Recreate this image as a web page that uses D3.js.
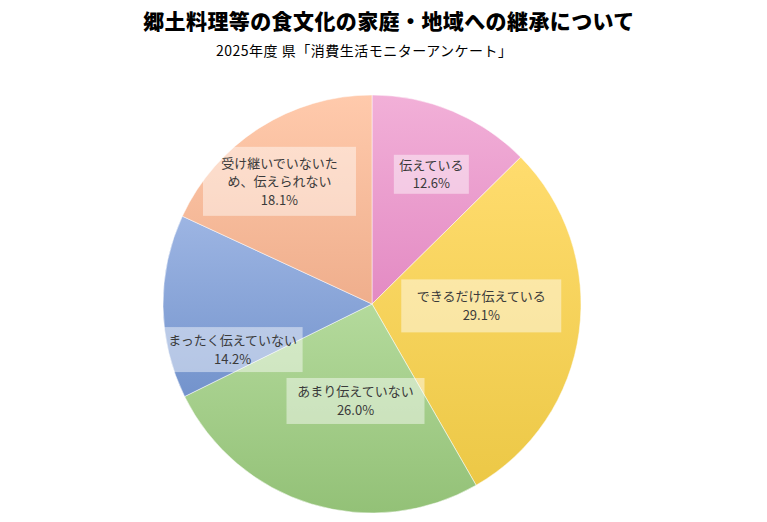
<!DOCTYPE html>
<html>
<head>
<meta charset="utf-8">
<script src="https://cdn.jsdelivr.net/npm/d3@7"></script>
<style>
  html, body { margin: 0; padding: 0; background: #fff; }
  svg { display: block; font-family: "Noto Sans CJK JP", "Noto Sans", sans-serif; }
</style>
</head>
<body>
<svg id="chart" width="767" height="522"></svg>
<script>
// data
const categories = ["伝えている", "できるだけ伝えている", "あまり伝えていない", "まったく伝えていない", "受け継いでいないため、伝えられない"];
const labelLines = [["伝えている"], ["できるだけ伝えている"], ["あまり伝えていない"], ["まったく伝えていない"], ["受け継いでいないた", "め、伝えられない"]];
const values = [12.6, 29.1, 26.0, 14.2, 18.1];
const title = "郷土料理等の食文化の家庭・地域への継承について";
const subtitle = "2025年度 県「消費生活モニターアンケート」";

// styling (top / bottom gradient stops)
const colorsTop = ["#f2b0d8", "#ffdc6e", "#b4da9c", "#9db5e3", "#ffcaac"];
const colorsBottom = ["#e38ac3", "#ecc846", "#93c177", "#7393cc", "#efae8c"];
// label placement tweaks relative to centroid and label box sizes
const labelNudge = [[11, -14], [-15, -15], [20, -23], [-14, 44], [-25, -17]];
const labelBox = [[75, 39], [160, 53], [138, 46], [140, 45], [153, 69]];

const svg = d3.select("#chart");
const cx = 372, cy = 304, radius = 209;

const defs = svg.append("defs");
categories.forEach((c, i) => {
  const g = defs.append("linearGradient")
    .attr("id", "grad" + i)
    .attr("x1", 0).attr("y1", 0).attr("x2", 0).attr("y2", 1);
  g.append("stop").attr("offset", "0%").attr("stop-color", colorsTop[i]);
  g.append("stop").attr("offset", "100%").attr("stop-color", colorsBottom[i]);
});

const pie = d3.pie().sort(null).value(d => d);
const arcs = pie(values);
const arc = d3.arc().innerRadius(0).outerRadius(radius);
const labelArc = d3.arc().innerRadius(radius * 0.6).outerRadius(radius * 0.6);

const g = svg.append("g").attr("transform", `translate(${cx},${cy})`);

g.selectAll("path.slice")
  .data(arcs)
  .join("path")
  .attr("class", "slice")
  .attr("d", arc)
  .attr("fill", (d, i) => `url(#grad${i})`)
  .attr("stroke", "#fff")
  .attr("stroke-width", 0.5);

const lineH = 18.5;
const labels = g.selectAll("g.label")
  .data(arcs)
  .join("g")
  .attr("class", "label")
  .attr("transform", (d, i) => {
    const [x, y] = labelArc.centroid(d);
    return `translate(${x + labelNudge[i][0]},${y + labelNudge[i][1]})`;
  });

labels.append("rect")
  .attr("x", (d, i) => -labelBox[i][0] / 2)
  .attr("y", (d, i) => -labelBox[i][1] / 2)
  .attr("width", (d, i) => labelBox[i][0])
  .attr("height", (d, i) => labelBox[i][1])
  .attr("fill", "#fff")
  .attr("fill-opacity", 0.45);

labels.each(function(d, i) {
  const lines = labelLines[i].concat([values[i].toFixed(1) + "%"]);
  const top = -(lines.length - 1) * lineH / 2;
  const t = d3.select(this).append("text")
    .attr("text-anchor", "middle")
    .attr("font-size", 13)
    .attr("fill", "#3a3a3a");
  lines.forEach((l, k) => {
    t.append("tspan")
      .attr("x", 0)
      .attr("y", top + k * lineH)
      .attr("dy", "0.36em")
      .text(l);
  });
});

svg.append("text")
  .attr("x", 389)
  .attr("y", 29)
  .attr("text-anchor", "middle")
  .attr("font-size", 21)
  .attr("font-weight", 900)
  .attr("letter-spacing", 0.4)
  .attr("fill", "#000")
  .text(title);

svg.append("text")
  .attr("x", 216)
  .attr("y", 56)
  .attr("font-size", 14)
  .attr("letter-spacing", 0.5)
  .attr("fill", "#000")
  .text(subtitle);
</script>
</body>
</html>
